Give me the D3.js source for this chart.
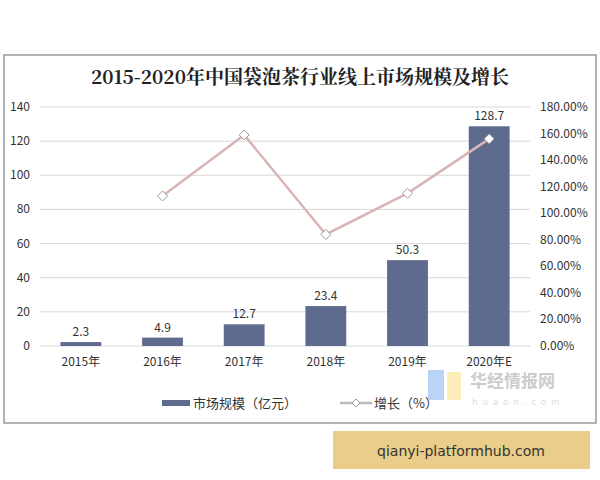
<!DOCTYPE html><html><head><meta charset="utf-8"><script src="https://d3js.org/d3.v7.min.js"></script>
<style>body{margin:0;background:#fff}</style></head><body><svg width="600" height="480"></svg><script>
const categories=["2015年","2016年","2017年","2018年","2019年","2020年E"];
const marketSize=[2.3,4.9,12.7,23.4,50.3,128.7];
const growth=[null,113,159,84,115,156];
const leftTicks=[0,20,40,60,80,100,120,140];
const rightTicks=[0,20,40,60,80,100,120,140,160,180];
const svg=d3.select("svg");
const f="'Noto Sans CJK SC',sans-serif";
const dia="M0,-5L5,0L0,5L-5,0Z", diaS="M0,-4L4,0L0,4L-4,0Z";
svg.append("rect").attr("x",4).attr("y",55).attr("width",592).attr("height",368).attr("fill","#fff").attr("stroke","#999").attr("stroke-width",1.5);
svg.append("text").attr("x",300).attr("y",84).attr("text-anchor","middle").attr("font-family","'Noto Serif CJK SC','Noto Sans CJK SC',serif").attr("font-weight","bold").attr("font-size",19).attr("fill","#222").text("2015-2020年中国袋泡茶行业线上市场规模及增长");
const x=d3.scaleBand().domain(categories).range([40,530]).paddingInner(0.5).paddingOuter(0.25);
const y=d3.scaleLinear().domain([0,140]).range([346,107]);
const y2=d3.scaleLinear().domain([0,180]).range([346,107]);
const g=svg.append("g");
g.selectAll(".gl").data(leftTicks).join("line").attr("x1",40).attr("x2",530).attr("y1",d=>y(d)).attr("y2",d=>y(d)).attr("stroke","#d9d9d9");
g.selectAll(".lt").data(leftTicks).join("text").attr("x",30).attr("y",d=>y(d)+4).attr("text-anchor","end").attr("font-family",f).attr("font-size",12).attr("fill","#333").text(d=>d);
g.selectAll(".rt").data(rightTicks).join("text").attr("x",540).attr("y",d=>y2(d)+4).attr("font-family",f).attr("font-size",12).attr("fill","#333").text(d=>d.toFixed(2)+"%");
g.selectAll(".bar").data(marketSize).join("rect").attr("x",(d,i)=>x(categories[i])).attr("width",x.bandwidth()).attr("y",d=>y(d)).attr("height",d=>346-y(d)).attr("fill","#5f6a8f");
g.selectAll(".bl").data(marketSize).join("text").attr("x",(d,i)=>x(categories[i])+x.bandwidth()/2).attr("y",d=>y(d)-6).attr("text-anchor","middle").attr("font-family",f).attr("font-size",12).attr("fill","#333").text(d=>d);
g.selectAll(".xl").data(categories).join("text").attr("x",d=>x(d)+x.bandwidth()/2).attr("y",366).attr("text-anchor","middle").attr("font-family",f).attr("font-size",12).attr("fill","#333").text(d=>d);
const pts=growth.map((v,i)=>[x(categories[i])+x.bandwidth()/2,v]).filter(p=>p[1]!=null);
g.append("path").attr("d",d3.line().x(p=>p[0]).y(p=>y2(p[1]))(pts)).attr("fill","none").attr("stroke","#d8b4b4").attr("stroke-width",2.5);
g.selectAll(".m").data(pts).join("path").attr("transform",p=>`translate(${p[0]},${y2(p[1])})`).attr("d",dia).attr("fill","#fff").attr("stroke","#999");
svg.append("rect").attr("x",162).attr("y",400).attr("width",28).attr("height",6).attr("fill","#5f6a8f");
svg.append("text").attr("x",193).attr("y",408).attr("font-family",f).attr("font-size",13).attr("fill","#333").text("市场规模（亿元）");
svg.append("line").attr("x1",340).attr("x2",372).attr("y1",403).attr("y2",403).attr("stroke","#bbb").attr("stroke-width",2.5);
svg.append("path").attr("transform","translate(356,403)").attr("d",diaS).attr("fill","#fff").attr("stroke","#999");
svg.append("text").attr("x",374).attr("y",408).attr("font-family",f).attr("font-size",13).attr("fill","#333").text("增长（%）");
svg.append("rect").attr("x",428).attr("y",370).attr("width",16).attr("height",30).attr("fill","#a9c8f5").attr("opacity",0.8);
svg.append("rect").attr("x",447).attr("y",372).attr("width",14).attr("height",28).attr("fill","#fbe9a8").attr("opacity",0.8);
svg.append("text").attr("x",470).attr("y",387).attr("font-family",f).attr("font-weight","bold").attr("font-size",17).attr("fill","#ccc").text("华经情报网");
svg.append("text").attr("x",472).attr("y",405).attr("font-family",f).attr("font-size",9).attr("letter-spacing",5).attr("fill","#ddd").text("huaon.com");
svg.append("rect").attr("x",333).attr("y",431).attr("width",257).attr("height",38).attr("fill","#e9cd88");
svg.append("text").attr("x",461).attr("y",456).attr("text-anchor","middle").attr("font-family","'DejaVu Sans',sans-serif").attr("font-size",14).attr("fill","#333").text("qianyi-platformhub.com");
</script></body></html>
